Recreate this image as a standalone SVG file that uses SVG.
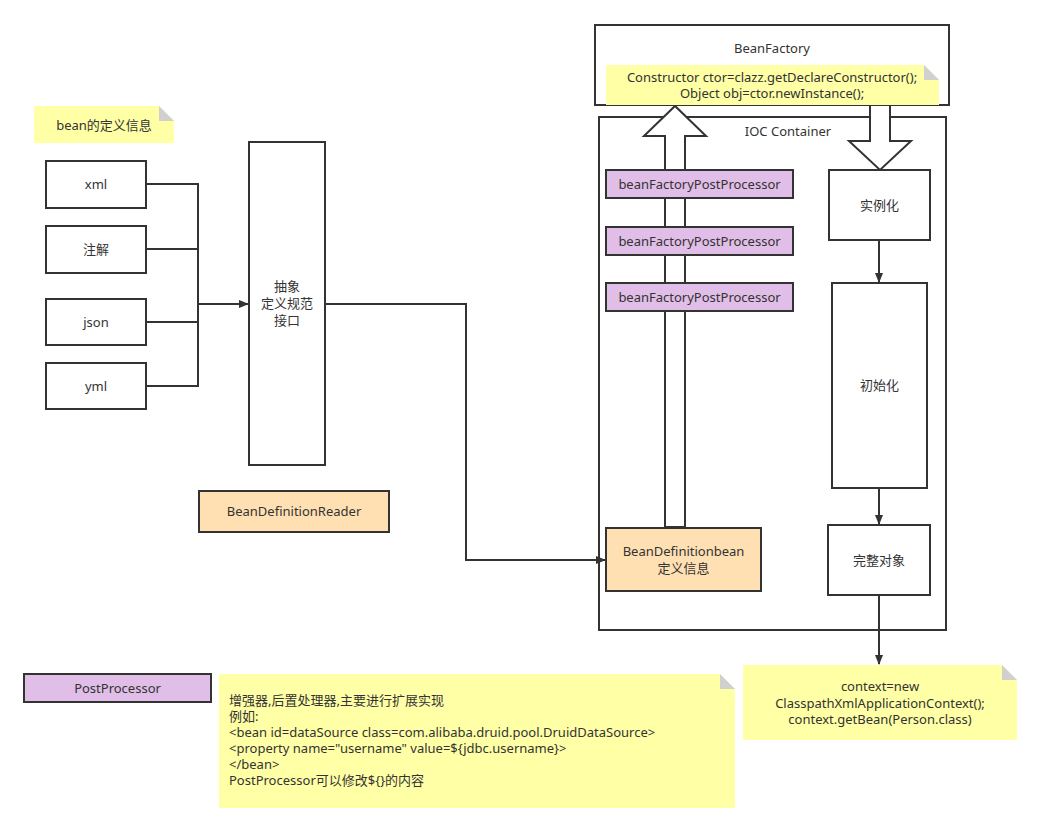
<svg xmlns="http://www.w3.org/2000/svg" width="1041" height="834" viewBox="0 0 1041 834">
<style>
text{font-family:"Noto Sans","Noto Sans CJK SC",sans-serif;font-size:13px;fill:#333;}
.c{text-anchor:middle;}
.box{fill:#fff;stroke:#333;stroke-width:2;}
.pp{fill:#e1bee7;stroke:#333;stroke-width:2;}
.or{fill:#ffe0b2;stroke:#333;stroke-width:2;}
.note{fill:#ffffa6;stroke:none;}
.fold{fill:#d0d0d0;}
.ln{fill:none;stroke:#333;stroke-width:2;}
.hollow{fill:#fff;stroke:#333;stroke-width:2;}
</style>
<defs>
<marker id="ah" markerWidth="10" markerHeight="10" refX="9" refY="5" orient="auto" markerUnits="userSpaceOnUse">
<path d="M0,1 L10,5 L0,9 Z" fill="#333"/>
</marker>
</defs>
<rect width="1041" height="834" fill="#fff"/>

<g id="beanfactory">
<rect class="box" x="595" y="25" width="354" height="80"/>
<text class="c" x="772" y="53">BeanFactory</text>
</g>
<g id="ioc-container">
<rect class="box" x="599" y="117" width="347" height="513"/>
<text class="c" x="788" y="136">IOC Container</text>
</g>

<g id="arrow-up">
<path class="hollow" d="M665,527 L665,136 L644,136 L675,106 L706,136 L685,136 L685,527 Z"/>
</g>
<g id="arrow-down">
<path class="hollow" d="M870,105 L890,105 L890,141 L911,141 L880,170 L849,141 L870,141 Z"/>
</g>

<g id="ctor-note">
<path class="note" d="M606,65 L924,65 L939,80 L939,105 L606,105 Z"/>
<path class="fold" d="M924,65 L939,80 L924,80 Z"/>
<text class="c" x="772" y="82">Constructor ctor=clazz.getDeclareConstructor();</text>
<text class="c" x="772" y="98">Object obj=ctor.newInstance();</text>
</g>

<g id="bfpp1">
<rect class="pp" x="606" y="170" width="187" height="28"/>
<text class="c" x="699.5" y="189">beanFactoryPostProcessor</text>
</g>
<g id="bfpp2">
<rect class="pp" x="606" y="227" width="187" height="28"/>
<text class="c" x="699.5" y="246">beanFactoryPostProcessor</text>
</g>
<g id="bfpp3">
<rect class="pp" x="606" y="283" width="187" height="28"/>
<text class="c" x="699.5" y="302">beanFactoryPostProcessor</text>
</g>

<g id="beandefinition">
<rect class="or" x="606" y="528" width="155" height="63"/>
<text class="c" x="683.5" y="556">BeanDefinitionbean</text>
<text class="c" x="683.5" y="573">定义信息</text>
</g>

<g id="instantiate">
<rect class="box" x="829" y="170" width="101" height="70"/>
<text class="c" x="879.5" y="210">实例化</text>
</g>
<g id="initialize">
<rect class="box" x="832" y="283" width="95" height="205"/>
<text class="c" x="879.5" y="390">初始化</text>
</g>
<g id="complete">
<rect class="box" x="828" y="525" width="102" height="70"/>
<text class="c" x="879" y="565">完整对象</text>
</g>

<g id="context-note">
<path class="note" d="M743,665 L1002,665 L1017,680 L1017,740 L743,740 Z"/>
<path class="fold" d="M1002,665 L1017,680 L1002,680 Z"/>
<text class="c" x="880" y="691">context=new</text>
<text class="c" x="880" y="708">ClasspathXmlApplicationContext();</text>
<text class="c" x="880" y="724">context.getBean(Person.class)</text>
</g>

<g id="bean-note">
<path class="note" d="M34,106 L159,106 L174,121 L174,143 L34,143 Z"/>
<path class="fold" d="M159,106 L174,121 L159,121 Z"/>
<text class="c" x="104" y="130">bean的定义信息</text>
</g>

<g id="xml">
<rect class="box" x="46" y="161" width="100" height="47"/>
<text class="c" x="96" y="189">xml</text>
</g>
<g id="annotation">
<rect class="box" x="46" y="226" width="100" height="47"/>
<text class="c" x="96" y="254">注解</text>
</g>
<g id="json">
<rect class="box" x="46" y="299" width="100" height="46"/>
<text class="c" x="96" y="327">json</text>
</g>
<g id="yml">
<rect class="box" x="46" y="363" width="100" height="46"/>
<text class="c" x="96" y="391">yml</text>
</g>

<g id="abstract">
<rect class="box" x="249" y="142" width="76" height="323"/>
<text class="c" x="287" y="291">抽象</text>
<text class="c" x="287" y="308">定义规范</text>
<text class="c" x="287" y="325">接口</text>
</g>

<g id="reader">
<rect class="or" x="199" y="491" width="190" height="41"/>
<text class="c" x="294" y="516">BeanDefinitionReader</text>
</g>

<g id="postprocessor">
<rect class="pp" x="24" y="674" width="187" height="28"/>
<text class="c" x="117.5" y="693">PostProcessor</text>
</g>

<g id="pp-note">
<path class="note" d="M219,674 L720,674 L735,689 L735,808 L219,808 Z"/>
<path class="fold" d="M720,674 L735,689 L720,689 Z"/>
<text x="229" y="705">增强器,后置处理器,主要进行扩展实现</text>
<text x="229" y="721">例如:</text>
<text x="229" y="737">&lt;bean id=dataSource class=com.alibaba.druid.pool.DruidDataSource&gt;</text>
<text x="229" y="753">&lt;property name="username" value=${jdbc.username}&gt;</text>
<text x="229" y="769">&lt;/bean&gt;</text>
<text x="229" y="785">PostProcessor可以修改${}的内容</text>
</g>

<g id="connectors">
<path class="ln" d="M146,184 L198,184 L198,386 L146,386"/>
<path class="ln" d="M146,249 L198,249"/>
<path class="ln" d="M146,322 L198,322"/>
<path class="ln" d="M198,304 L248,304" marker-end="url(#ah)"/>
<path class="ln" d="M325,304 L466,304 L466,560 L605,560" marker-end="url(#ah)"/>
<path class="ln" d="M879,240 L879,282" marker-end="url(#ah)"/>
<path class="ln" d="M879,488 L879,524" marker-end="url(#ah)"/>
<path class="ln" d="M879,595 L879,664" marker-end="url(#ah)"/>
</g>
</svg>
